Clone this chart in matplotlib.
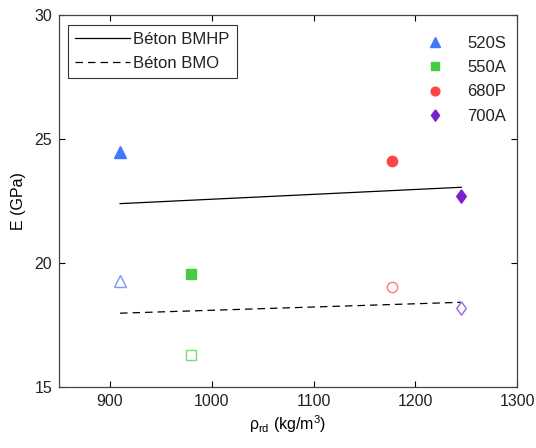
import matplotlib.pyplot as plt
from matplotlib.lines import Line2D

plt.rcParams["font.family"] = ["Liberation Sans", "DejaVu Sans"]
plt.rcParams["font.size"] = 11.5
plt.rcParams["text.color"] = "#222222"

# fibre series: filled = BMHP, open = BMO
names = ["520S", "550A", "680P", "700A"]
rho = [910, 980, 1177, 1245]
e_bmhp = [24.49, 19.56, 24.10, 22.72]
e_bmo = [19.27, 16.28, 19.02, 18.18]
diamond = [(0, 1), (0.72, 0), (0, -1), (-0.72, 0), (0, 1)]
markers = ["^", "s", "o", diamond]
sizes = [9, 7.6, 7.4, 9.6]
colors = ["#4477ff", "#44cc44", "#ff4444", "#7722cc"]
light = ["#7799ff", "#77dd77", "#ff7777", "#9966dd"]

# fitted trend lines
fit_x = [910, 1245]
fit_bmhp = [22.40, 23.06]
fit_bmo = [17.98, 18.42]

fig = plt.figure(figsize=(5.36, 4.48), dpi=100)
ax = fig.add_axes([0.110, 0.136, 0.855, 0.830])

ax.plot(fit_x, fit_bmhp, color="black", lw=0.9, label="Béton BMHP")
ax.plot(fit_x, fit_bmo, color="black", lw=0.9, ls=(0, (6, 4)), label="Béton BMO")

handles = []
for i in range(len(names)):
    ax.plot(rho[i], e_bmhp[i], marker=markers[i], color=colors[i], ms=sizes[i], ls="none")
    ax.plot(rho[i], e_bmo[i], marker=markers[i], mfc="white", mec=light[i],
            mew=1.0, ms=sizes[i], ls="none")
    handles.append(Line2D([], [], marker=markers[i], color=colors[i], ms=sizes[i] * 0.85,
                          ls="none", label=names[i]))

ax.set_xlim(850, 1300)
ax.set_ylim(15, 30)
ax.set_xticks([900, 1000, 1100, 1200, 1300])
ax.set_yticks([15, 20, 25, 30])
ax.tick_params(direction="in", top=True, right=True, length=4, width=0.8, pad=5,
               labelcolor="#222222")
for s in ax.spines.values():
    s.set_color("#444444")
    s.set_linewidth(0.9)

ax.set_xlabel(r"$\mathregular{\rho_{rd}}$ (kg/m$\mathregular{^3}$)", labelpad=3)
ax.set_ylabel("E (GPa)", labelpad=6)

leg1 = ax.legend(loc="upper left", frameon=True, fancybox=False, edgecolor="black",
                 handlelength=3.3, handletextpad=0.2, borderpad=0.42,
                 labelspacing=0.55, borderaxespad=0, bbox_to_anchor=(0.02, 0.975),
                 fontsize=12)
leg1.get_frame().set_linewidth(0.8)
ax.add_artist(leg1)
ax.legend(handles=handles, loc="upper right", frameon=False, handletextpad=0.9,
          labelspacing=0.55, borderaxespad=0, bbox_to_anchor=(0.99, 0.962),
          fontsize=12)

fig.savefig("out.png", dpi=100)
